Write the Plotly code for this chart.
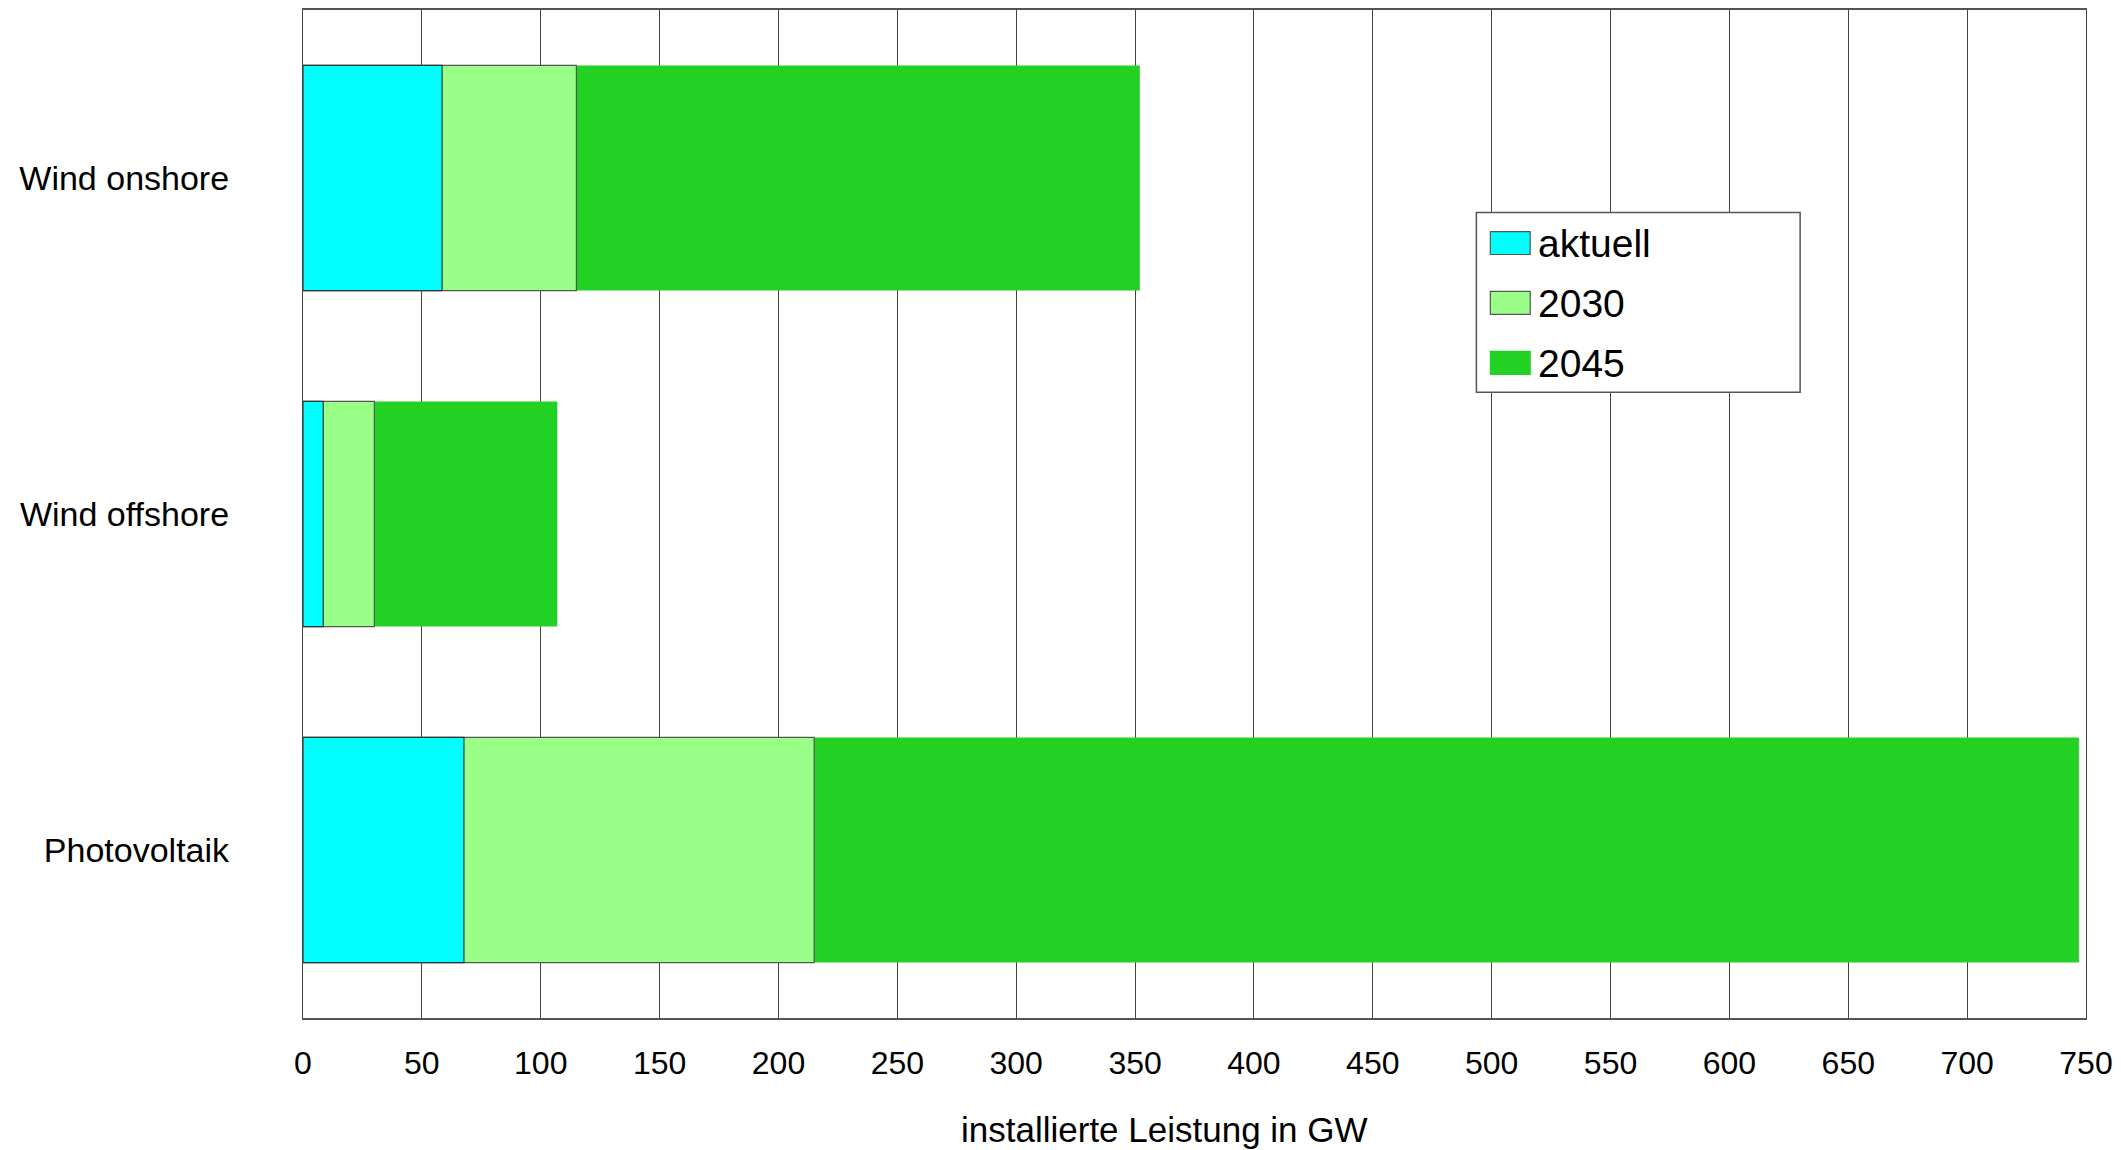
import plotly.graph_objects as go

categories = ["Wind onshore", "Wind offshore", "Photovoltaik"]
aktuell = [58.5, 8.5, 67.7]
ziel_2030 = [115, 30, 215]
ziel_2045 = [352, 107, 747]
series_names = ["aktuell", "2030", "2045"]
colors = {"aktuell": "#00FFFF", "2030": "#99FF88", "2045": "#22D124"}
x_ticks = list(range(0, 751, 50))

FONT = "Liberation Sans, Arial, sans-serif"

fig = go.Figure()
# drawn back to front (overlaid bars)
fig.add_trace(go.Bar(y=categories, x=ziel_2045, orientation="h", name="2045",
                     marker=dict(color=colors["2045"], line=dict(width=0)), showlegend=False))
fig.add_trace(go.Bar(y=categories, x=ziel_2030, orientation="h", name="2030",
                     marker=dict(color=colors["2030"], line=dict(color="#555555", width=1.2)), showlegend=False))
fig.add_trace(go.Bar(y=categories, x=aktuell, orientation="h", name="aktuell",
                     marker=dict(color=colors["aktuell"], line=dict(color="#333333", width=1.2)), showlegend=False))

W, H = 2121, 1150
L, R, T, B = 303, 28, 8, 132
pw, ph = W - L - R, H - T - B

def px(x):
    return (x - L) / pw

def py(y):
    return (H - B - y) / ph

shapes = [dict(type="rect", xref="paper", yref="paper", x0=px(1481), x1=px(1806), y0=py(391), y1=py(211),
               line=dict(color="#555555", width=1.5), fillcolor="white", layer="above")]
annotations = []
sw_tops = [230, 290, 350]
for name, top in zip(series_names, sw_tops):
    shapes.append(dict(type="rect", xref="paper", yref="paper", x0=px(1495), x1=px(1535),
                       y0=py(top + 23), y1=py(top), fillcolor=colors[name],
                       line=dict(color="#555555" if name != "2045" else colors[name], width=1.2), layer="above"))
    annotations.append(dict(xref="paper", yref="paper", x=px(1541), y=py(top + 12), text=name, showarrow=False,
                            xanchor="left", yanchor="middle", font=dict(family=FONT, size=39, color="black")))

annotations.append(dict(xref="paper", yref="paper", x=px(1168), y=py(1130), text="installierte Leistung in GW",
                        showarrow=False, xanchor="center", yanchor="middle",
                        font=dict(family=FONT, size=35, color="black")))

fig.update_layout(
    width=W, height=H,
    margin=dict(l=L, r=R, t=T, b=B),
    barmode="overlay", bargap=0.33,
    plot_bgcolor="white", paper_bgcolor="white",
    font=dict(family=FONT, color="black"),
    showlegend=False,
    shapes=shapes, annotations=annotations,
)
fig.update_xaxes(range=[0, 750], tickvals=x_ticks, showgrid=True, gridcolor="#444444", gridwidth=1,
                 showline=True, mirror=True, linecolor="#555555", linewidth=1.5, zeroline=False,
                 ticks="", tickfont=dict(size=32, family=FONT, color="black"), ticklabelstandoff=16)
fig.update_yaxes(categoryorder="array", categoryarray=categories, autorange="reversed", showgrid=False,
                 showline=True, mirror=True, linecolor="#444444", linewidth=1.2, ticks="",
                 tickfont=dict(size=34, family=FONT, color="black"), ticklabelstandoff=66)

fig.write_html("out.html", config={"displayModeBar": False},
               post_script="document.body.style.margin='0';document.body.style.overflow='hidden';")
